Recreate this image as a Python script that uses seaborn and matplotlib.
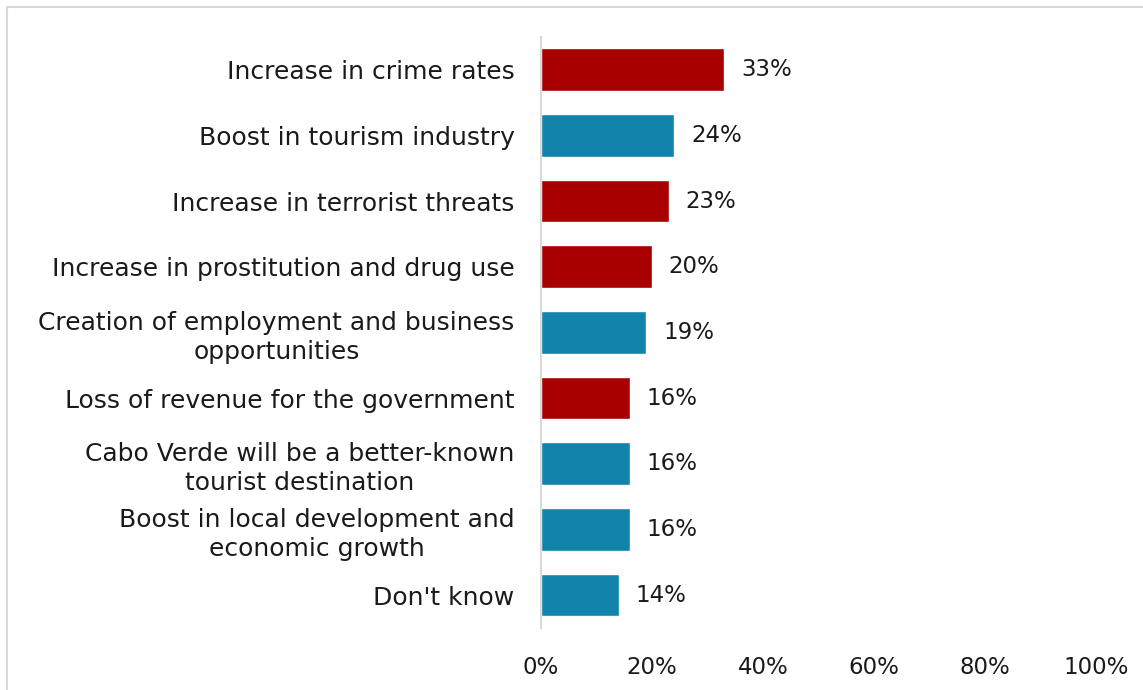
import matplotlib
matplotlib.use("Agg")
import matplotlib.pyplot as plt
from matplotlib.patches import Rectangle
import seaborn as sns
import pandas as pd

categories = [
    "Increase in crime rates",
    "Boost in tourism industry",
    "Increase in terrorist threats",
    "Increase in prostitution and drug use",
    "Creation of employment and business\nopportunities",
    "Loss of revenue for the government",
    "Cabo Verde will be a better-known\ntourist destination",
    "Boost in local development and\neconomic growth",
    "Don't know",
]
values = [33, 24, 23, 20, 19, 16, 16, 16, 14]
kinds = ["neg", "pos", "neg", "neg", "pos", "neg", "pos", "pos", "pos"]
x_ticks = [0, 20, 40, 60, 80, 100]

palette = {"neg": "#A80000", "pos": "#1284AB"}
FS_CAT = 18
FS_NUM = 16.5
INK = "#1a1a1a"

sns.set_theme(style="white")
plt.rcParams["font.family"] = ["DejaVu Sans"]

df = pd.DataFrame({"category": categories, "value": values, "kind": kinds})

fig = plt.figure(figsize=(11.43, 6.90), dpi=100)
ax = fig.add_axes([0.4733, 0.0899, 0.4857, 0.8565])

sns.barplot(data=df, y="category", x="value", hue="kind", palette=palette,
            order=categories, hue_order=["neg", "pos"], dodge=False,
            width=0.65, saturation=1, legend=False, ax=ax)

for cont in ax.containers:
    ax.bar_label(cont, labels=[f"{v:.0f}%" if v == v else "" for v in cont.datavalues],
                 padding=12, fontsize=FS_NUM, color=INK)

ax.set_xlim(0, 100)
ax.set_xticks(x_ticks)
ax.set_xticklabels([f"{t}%" for t in x_ticks], fontsize=FS_NUM, color=INK)
ax.set_xlabel("")
ax.set_ylabel("")
ax.tick_params(axis="x", length=0, pad=20)
ax.tick_params(axis="y", length=0, pad=19)
for lbl in ax.get_yticklabels():
    lbl.set_fontsize(FS_CAT)
    lbl.set_color(INK)
    lbl.set_multialignment("center")
    lbl.set_linespacing(1.25)

for side in ["top", "right", "bottom"]:
    ax.spines[side].set_visible(False)
ax.spines["left"].set_color("#d9d9d9")
ax.spines["left"].set_linewidth(1.5)

# chart-area frame
fig.patches.append(Rectangle((7 / 1143, -0.1), 1.2, 1 - 7 / 690 + 0.1,
                             transform=fig.transFigure, fill=False,
                             edgecolor="#d9d9d9", linewidth=1.5))

fig.savefig("out.png", dpi=100)
